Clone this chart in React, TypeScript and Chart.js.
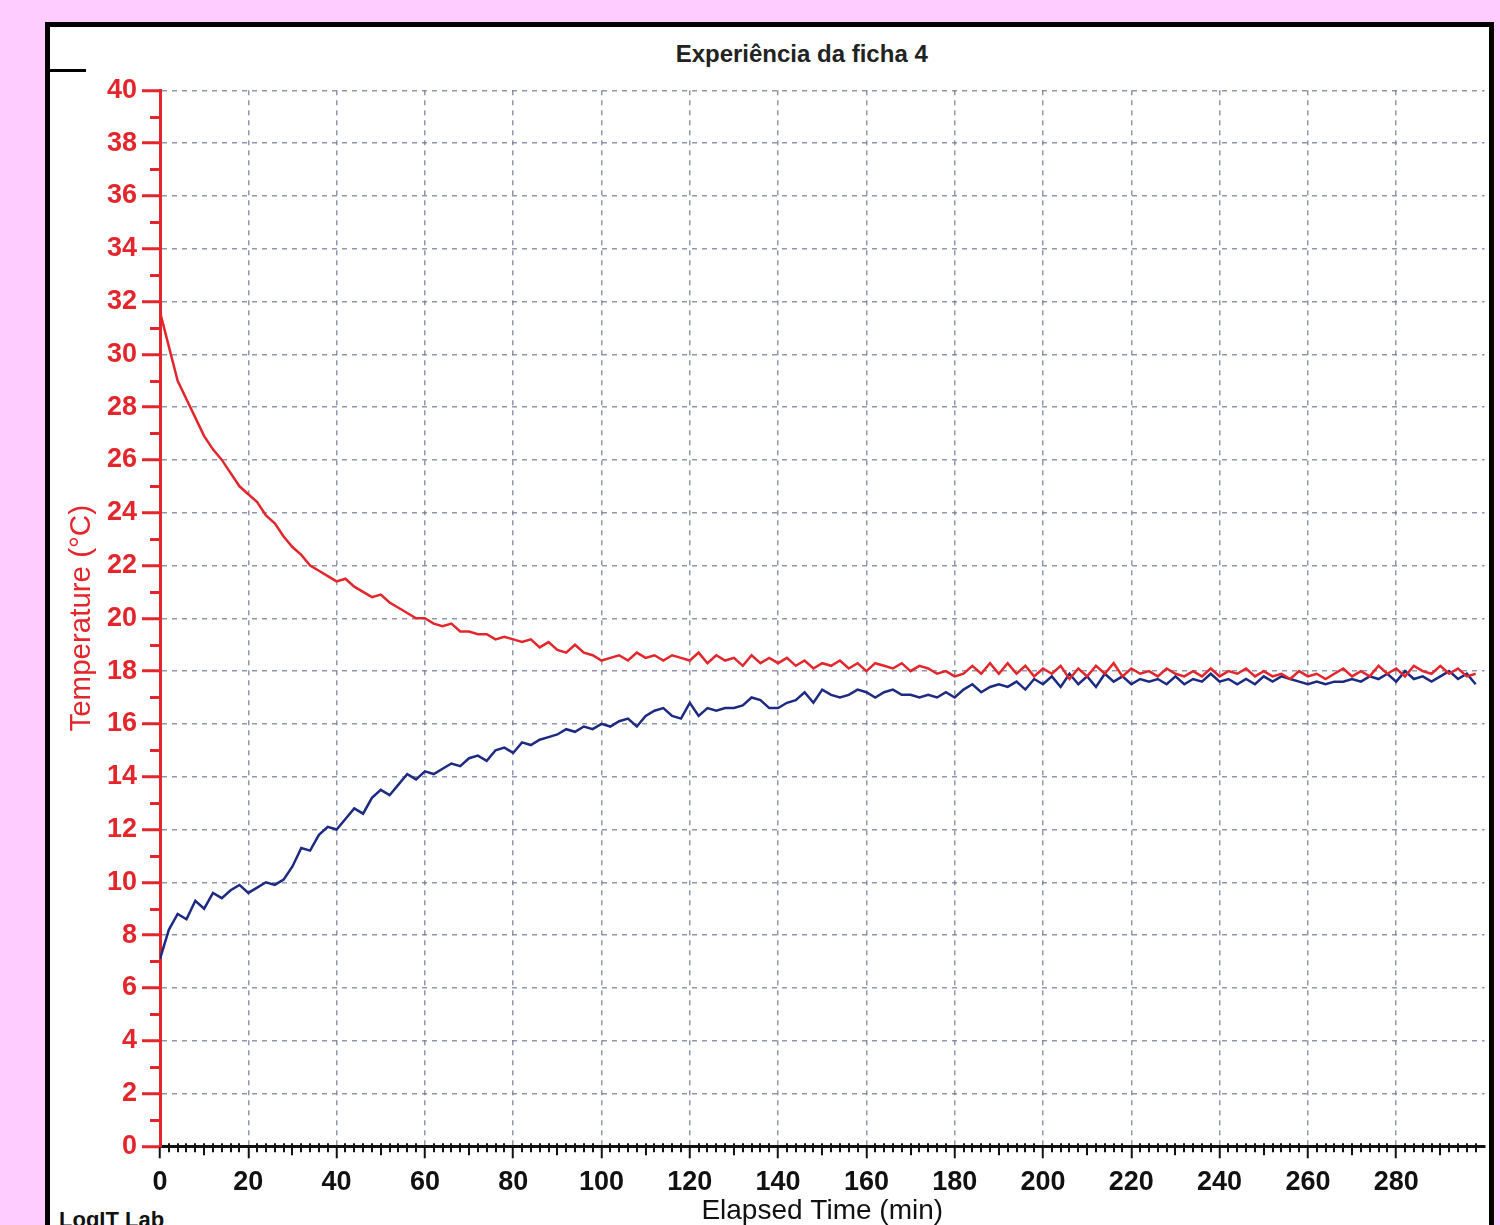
import React, { useEffect, useRef } from 'react';
import { Chart, registerables } from 'chart.js';

Chart.register(...registerables);

const TITLE = 'Experiência da ficha 4';
const X_TITLE = 'Elapsed Time (min)';
const Y_TITLE = 'Temperature (°C)';
const FOOTER = 'LogIT Lab';

const SAMPLE_STEP_MIN = 2;
const X_MIN = 0;
const X_MAX = 300;
const Y_MIN = 0;
const Y_MAX = 40;
const X_TICKS = [0, 20, 40, 60, 80, 100, 120, 140, 160, 180, 200, 220, 240, 260, 280];
const Y_TICKS = [0, 2, 4, 6, 8, 10, 12, 14, 16, 18, 20, 22, 24, 26, 28, 30, 32, 34, 36, 38, 40];
const X_MINOR_STEP = 2;
const Y_MINOR_STEP = 1;

// red probe, sampled every 2 min (t = 0 .. 298)
const redTemp = [
  31.6, 30.3, 29.0, 28.3, 27.6, 26.9, 26.4, 26.0, 25.5, 25.0,
  24.7, 24.4, 23.9, 23.6, 23.1, 22.7, 22.4, 22.0, 21.8, 21.6,
  21.4, 21.5, 21.2, 21.0, 20.8, 20.9, 20.6, 20.4, 20.2, 20.0,
  20.0, 19.8, 19.7, 19.8, 19.5, 19.5, 19.4, 19.4, 19.2, 19.3,
  19.2, 19.1, 19.2, 18.9, 19.1, 18.8, 18.7, 19.0, 18.7, 18.6,
  18.4, 18.5, 18.6, 18.4, 18.7, 18.5, 18.6, 18.4, 18.6, 18.5,
  18.4, 18.7, 18.3, 18.6, 18.4, 18.5, 18.2, 18.6, 18.3, 18.5,
  18.3, 18.5, 18.2, 18.4, 18.1, 18.3, 18.2, 18.4, 18.1, 18.3,
  18.0, 18.3, 18.2, 18.1, 18.3, 18.0, 18.2, 18.1, 17.9, 18.0,
  17.8, 17.9, 18.2, 17.9, 18.3, 17.9, 18.3, 17.9, 18.2, 17.8,
  18.1, 17.9, 18.2, 17.7, 18.1, 17.8, 18.2, 17.9, 18.3, 17.8,
  18.1, 17.9, 18.0, 17.8, 18.1, 17.9, 17.8, 18.0, 17.8, 18.1,
  17.8, 18.0, 17.9, 18.1, 17.8, 18.0, 17.8, 17.9, 17.7, 18.0,
  17.8, 17.9, 17.7, 17.9, 18.1, 17.8, 18.0, 17.8, 18.2, 17.9,
  18.1, 17.8, 18.2, 18.0, 17.9, 18.2, 17.9, 18.1, 17.8, 17.9,
];

// blue probe, sampled every 2 min (t = 0 .. 298)
const blueTemp = [
  7.1, 8.2, 8.8, 8.6, 9.3, 9.0, 9.6, 9.4, 9.7, 9.9,
  9.6, 9.8, 10.0, 9.9, 10.1, 10.6, 11.3, 11.2, 11.8, 12.1,
  12.0, 12.4, 12.8, 12.6, 13.2, 13.5, 13.3, 13.7, 14.1, 13.9,
  14.2, 14.1, 14.3, 14.5, 14.4, 14.7, 14.8, 14.6, 15.0, 15.1,
  14.9, 15.3, 15.2, 15.4, 15.5, 15.6, 15.8, 15.7, 15.9, 15.8,
  16.0, 15.9, 16.1, 16.2, 15.9, 16.3, 16.5, 16.6, 16.3, 16.2,
  16.8, 16.3, 16.6, 16.5, 16.6, 16.6, 16.7, 17.0, 16.9, 16.6,
  16.6, 16.8, 16.9, 17.2, 16.8, 17.3, 17.1, 17.0, 17.1, 17.3,
  17.2, 17.0, 17.2, 17.3, 17.1, 17.1, 17.0, 17.1, 17.0, 17.2,
  17.0, 17.3, 17.5, 17.2, 17.4, 17.5, 17.4, 17.6, 17.3, 17.7,
  17.5, 17.8, 17.4, 17.9, 17.5, 17.8, 17.4, 17.9, 17.6, 17.8,
  17.5, 17.7, 17.6, 17.7, 17.5, 17.8, 17.5, 17.7, 17.6, 17.9,
  17.6, 17.7, 17.5, 17.7, 17.5, 17.8, 17.6, 17.8, 17.7, 17.6,
  17.5, 17.6, 17.5, 17.6, 17.6, 17.7, 17.6, 17.8, 17.7, 17.9,
  17.6, 18.0, 17.7, 17.8, 17.6, 17.8, 18.0, 17.7, 17.9, 17.5,
];

const timeMin = redTemp.map((_, i) => i * SAMPLE_STEP_MIN);

const RED = '#e3262b';
const BLUE = '#1c2a82';
const GRID = 'rgba(110,115,145,0.75)';
const SANS = "'Liberation Sans', Arial, sans-serif";

const minorTicks = {
  id: 'minorTicks',
  afterDraw(chart: any) {
    const { ctx, chartArea, scales } = chart;
    const x = scales.x;
    const y = scales.y;
    ctx.save();
    ctx.strokeStyle = RED;
    ctx.lineWidth = 3;
    for (let v = Y_MIN + Y_MINOR_STEP; v < Y_MAX; v += 2 * Y_MINOR_STEP) {
      const py = Math.round(y.getPixelForValue(v)) + 0.5;
      ctx.beginPath();
      ctx.moveTo(chartArea.left - 10, py);
      ctx.lineTo(chartArea.left, py);
      ctx.stroke();
    }
    ctx.strokeStyle = '#111';
    ctx.lineWidth = 2;
    for (let v = X_MIN + X_MINOR_STEP; v < X_MAX; v += X_MINOR_STEP) {
      if (v % 20 === 0) continue;
      const px = Math.round(x.getPixelForValue(v));
      const len = v % 10 === 0 ? 9 : 6;
      ctx.beginPath();
      ctx.moveTo(px, chartArea.bottom - 3);
      ctx.lineTo(px, chartArea.bottom + len);
      ctx.stroke();
    }
    ctx.restore();
  },
};

export default function App() {
  const canvasRef = useRef<HTMLCanvasElement | null>(null);

  useEffect(() => {
    const prevMargin = document.body.style.margin;
    document.body.style.margin = '0';
    const canvas = canvasRef.current;
    if (!canvas) return;
    const chart = new Chart(canvas, {
      type: 'line',
      data: {
        datasets: [
          {
            label: 'Red',
            data: timeMin.map((t, i) => ({ x: t, y: redTemp[i] })),
            borderColor: RED,
            borderWidth: 2.5,
            pointRadius: 0,
            tension: 0,
          },
          {
            label: 'Blue',
            data: timeMin.map((t, i) => ({ x: t, y: blueTemp[i] })),
            borderColor: BLUE,
            borderWidth: 2.5,
            pointRadius: 0,
            tension: 0,
          },
        ],
      },
      options: {
        animation: false,
        responsive: false,
        devicePixelRatio: 1,
        layout: { padding: { top: 90.3, right: 15.5, left: 0, bottom: 0 } },
        plugins: {
          legend: { display: false },
          tooltip: { enabled: false },
          title: { display: false },
        },
        scales: {
          x: {
            type: 'linear',
            min: X_MIN,
            max: X_MAX,
            afterBuildTicks: (s: any) => {
              s.ticks = X_TICKS.map((v) => ({ value: v }));
            },
            afterFit: (s: any) => {
              s.height = 1250 - 1146.3;
              s.paddingLeft = 0;
              s.paddingRight = 0;
            },
            ticks: {
              color: '#111',
              font: { family: SANS, size: 27, weight: 'bold' },
              padding: 8,
              maxRotation: 0,
              autoSkip: false,
            },
            grid: {
              color: GRID,
              lineWidth: 1.5,
              drawTicks: true,
              tickLength: 12,
              tickColor: '#111',
              tickWidth: 2,
              tickBorderDash: [],
            },
            border: { display: true, color: '#111', width: 3, dash: [5, 5] },
            title: {
              display: true,
              text: X_TITLE,
              color: '#111',
              font: { family: SANS, size: 28 },
              padding: { top: 0, bottom: 22 },
            },
          },
          y: {
            type: 'linear',
            min: Y_MIN,
            max: Y_MAX,
            afterBuildTicks: (s: any) => {
              s.ticks = Y_TICKS.map((v) => ({ value: v }));
            },
            afterFit: (s: any) => {
              s.width = 160;
              s.paddingTop = 0;
              s.paddingBottom = 0;
            },
            ticks: {
              color: RED,
              font: { family: SANS, size: 27, weight: 'bold' },
              padding: 5,
              autoSkip: false,
            },
            grid: {
              color: GRID,
              lineWidth: 1.5,
              drawTicks: true,
              tickLength: 18,
              tickColor: RED,
              tickWidth: 3,
              tickBorderDash: [],
            },
            border: { display: true, color: RED, width: 3, dash: [5, 5] },
            title: {
              display: true,
              text: Y_TITLE,
              color: RED,
              font: { family: SANS, size: 29.5 },
              padding: { top: 64, bottom: 0 },
            },
          },
        },
      },
      plugins: [minorTicks],
    } as any);
    return () => {
      chart.destroy();
      document.body.style.margin = prevMargin;
    };
  }, []);

  return (
    <div
      style={{
        position: 'relative',
        width: 1500,
        height: 1225,
        overflow: 'hidden',
        background: '#ffccff',
      }}
    >
      <div
        style={{
          position: 'absolute',
          left: 45,
          top: 22,
          width: 1449,
          height: 1300,
          boxSizing: 'border-box',
          border: '5px solid #000',
          background: '#fff',
        }}
      />
      <div style={{ position: 'absolute', left: 50, top: 69, width: 36, height: 3, background: '#000' }} />
      <div
        style={{
          position: 'absolute',
          left: 801.7,
          top: 41.7,
          transform: 'translateX(-50%)',
          whiteSpace: 'nowrap',
          fontFamily: SANS,
          fontSize: 24,
          lineHeight: '24px',
          fontWeight: 'bold',
          color: '#222',
        }}
      >
        {TITLE}
      </div>
      <div
        style={{
          position: 'absolute',
          left: 59,
          top: 1209,
          whiteSpace: 'nowrap',
          fontFamily: SANS,
          fontSize: 22,
          lineHeight: '22px',
          fontWeight: 'bold',
          color: '#111',
        }}
      >
        {FOOTER}
      </div>
      <canvas
        ref={canvasRef}
        width={1500}
        height={1250}
        style={{ position: 'absolute', left: 0, top: 0, width: 1500, height: 1250 }}
      />
    </div>
  );
}
